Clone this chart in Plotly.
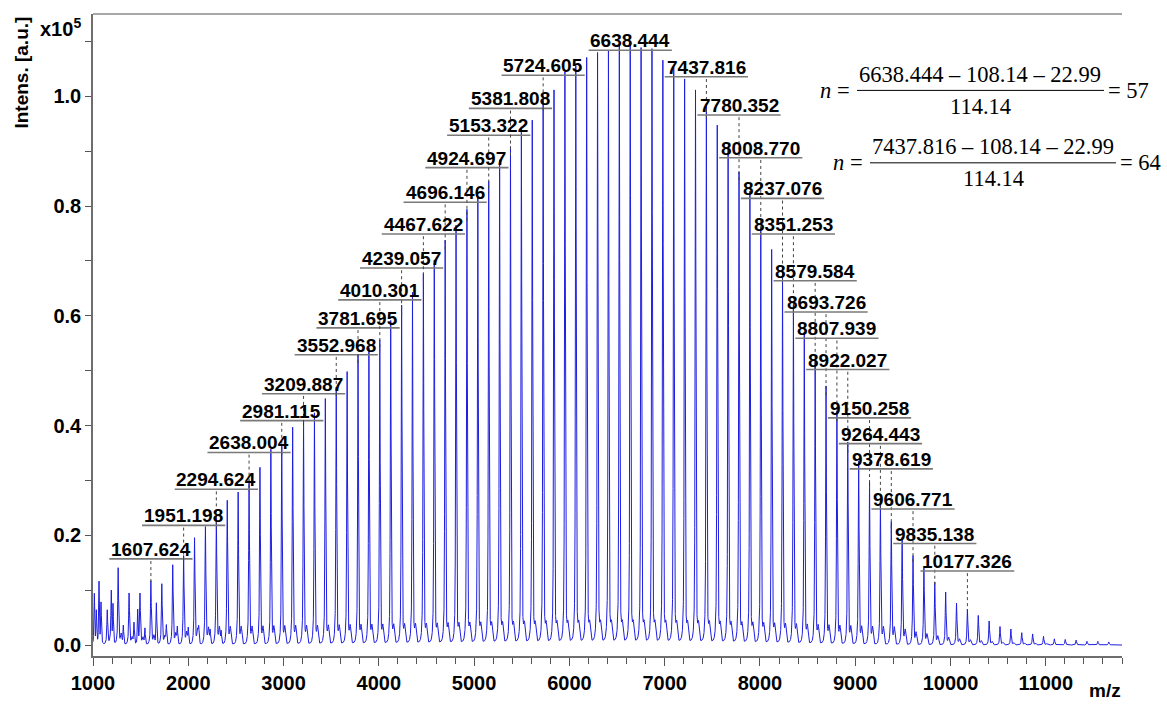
import numpy as np
import plotly.graph_objects as go

# ---- main oligomer series: peak m/z and intensity (x10^5 a.u.) ----
peak_mz = [1149.6, 1264.1, 1378.6, 1493.1, 1607.624, 1722.1, 1836.7, 1951.198, 2065.7, 2180.2,
           2294.624, 2409.1, 2523.6, 2638.004, 2752.4, 2866.8, 2981.115, 3095.5, 3209.887, 3324.3,
           3438.6, 3552.968, 3667.3, 3781.695, 3896.0, 4010.301, 4124.7, 4239.057, 4353.3, 4467.622,
           4581.9, 4696.146, 4810.4, 4924.697, 5039.0, 5153.322, 5267.6, 5381.808, 5496.1, 5610.3,
           5724.605, 5838.8, 5953.1, 6067.3, 6181.5, 6295.7, 6410.0, 6524.2, 6638.444, 6752.6,
           6866.8, 6981.0, 7095.2, 7209.4, 7323.6, 7437.816, 7552.0, 7666.2, 7780.352, 7894.6,
           8008.770, 8122.9, 8237.076, 8351.253, 8465.4, 8579.584, 8693.726, 8807.939, 8922.027, 9036.1,
           9150.258, 9264.443, 9378.619, 9492.7, 9606.771, 9721.0, 9835.138, 9949.2, 10063.3, 10177.326,
           10291.4, 10405.5, 10519.6, 10633.7, 10747.8, 10861.9, 10976.0, 11090.1, 11204.2, 11318.3,
           11432.4, 11546.5, 11660.6]
peak_int = [0.056, 0.125, 0.084, 0.083, 0.104, 0.099, 0.130, 0.145, 0.174, 0.192,
            0.206, 0.238, 0.253, 0.274, 0.298, 0.331, 0.340, 0.371, 0.384, 0.397,
            0.423, 0.443, 0.472, 0.502, 0.515, 0.530, 0.565, 0.593, 0.616, 0.650,
            0.675, 0.711, 0.738, 0.767, 0.791, 0.818, 0.857, 0.881, 0.917, 0.929,
            0.967, 0.984, 1.017, 1.028, 1.043, 1.052, 1.055, 1.064, 1.073, 1.061,
            1.059, 1.038, 1.025, 1.004, 0.984, 0.955, 0.920, 0.876, 0.835, 0.800,
            0.734, 0.694, 0.650, 0.593, 0.544, 0.489, 0.446, 0.401, 0.344, 0.309,
            0.271, 0.237, 0.200, 0.175, 0.145, 0.125, 0.102, 0.086, 0.068, 0.058,
            0.048, 0.039, 0.030, 0.026, 0.020, 0.018, 0.014, 0.010, 0.009, 0.008,
            0.006, 0.006, 0.005]

# ---- low-mass matrix / fragment peaks ----
minor_mz = [1014.0, 1035.0, 1063.0, 1084.0, 1192.0, 1210.0, 1318.0, 1430.0, 1469.0, 1545.0,
            1665.0, 1770.0, 1885.0, 2000.0, 2110.0, 2230.0, 2345.0]
minor_int = [0.092, 0.060, 0.113, 0.075, 0.094, 0.072, 0.035, 0.040, 0.062, 0.030,
             0.076, 0.035, 0.032, 0.030, 0.028, 0.026, 0.024]

# ---- annotated peaks and the row height of each label ----
label_mz = [1607.624, 1951.198, 2294.624, 2638.004, 2981.115, 3209.887, 3552.968, 3781.695,
            4010.301, 4239.057, 4467.622, 4696.146, 4924.697, 5153.322, 5381.808, 5724.605,
            6638.444, 7437.816, 7780.352, 8008.770, 8237.076, 8351.253, 8579.584, 8693.726,
            8807.939, 8922.027, 9150.258, 9264.443, 9378.619, 9606.771, 9835.138, 10177.326]
label_row = [0.157, 0.218, 0.284, 0.351, 0.409, 0.458, 0.529, 0.578,
             0.629, 0.687, 0.749, 0.807, 0.870, 0.929, 0.978, 1.0385,
             1.084, 1.0356, 0.966, 0.888, 0.814, 0.749, 0.664, 0.607,
             0.559, 0.502, 0.414, 0.367, 0.321, 0.248, 0.185, 0.135]

x_ticks = list(range(1000, 12000, 1000))
y_ticks = [0.0, 0.2, 0.4, 0.6, 0.8, 1.0]

# ---- profile spectrum built from the peak list ----
grid = np.arange(1000.0, 11800.5, 0.5)
mz = np.union1d(grid, np.array(peak_mz + minor_mz))


def profile(center, height):
    d = mz - center
    return height * (0.55 * np.exp(-0.5 * (d / 4.0) ** 2) + 0.45 / (1.0 + (d / 5.0) ** 2))


signal = np.zeros_like(mz)
for c, h in zip(peak_mz, peak_int):
    signal += profile(c, h)
    # broad skirt under each oligomer peak
    skirt = min(0.025, 0.12 * h)
    signal += skirt * np.exp(-0.5 * ((mz - c) / 12.0) ** 2)
    # adduct shoulder following each oligomer peak
    side = min(0.03, 0.15 * h)
    signal += side * np.exp(-0.5 * ((mz - c - 32.0) / 7.0) ** 2)
for c, h in zip(minor_mz, minor_int):
    signal += profile(c, h)

fig = go.Figure()
fig.add_trace(go.Scatter(x=mz, y=signal, mode="lines",
                         line=dict(color="rgb(30,30,225)", width=1),
                         hoverinfo="skip", showlegend=False))

# plot-area geometry in pixels
W, H = 1167, 706
L, R, T, B = 93, 1122, 14, 661


def px_x(px):
    return (px - L) / (R - L)


def px_y(py):
    return (B - py) / (B - T)


bold = dict(family="Liberation Sans, Arial, sans-serif", size=19, color="black", weight="bold")
tickfont = dict(bold, size=20)
serif = dict(family="Liberation Serif, Times New Roman, serif", size=22.5, color="black")

shapes = []
annotations = []

# peak labels: text, underline and dotted leader to the peak top
height_of = dict(zip(peak_mz, peak_int))
fs = bold["size"]
for m, row in zip(label_mz, label_row):
    txt = f"{m:.3f}"
    ndig = sum(ch.isdigit() for ch in txt)
    w = fs * (0.556 * ndig + 0.278) + 4
    annotations.append(dict(x=m, y=row, xref="x", yref="y", text=f"<b>{txt}</b>",
                            showarrow=False, yanchor="bottom", xanchor="center",
                            font=bold, yshift=-2, borderpad=0))
    shapes.append(dict(type="line", xref="x", yref="y", xsizemode="pixel", xanchor=m,
                       x0=-w / 2, x1=w / 2, y0=row, y1=row,
                       line=dict(color="#7a7a7a", width=1.6)))
    top = height_of[m]
    shapes.append(dict(type="line", xref="x", yref="y", x0=m, x1=m, y0=row - 0.004, y1=top + 0.006,
                       line=dict(color="#444444", width=1, dash="dot")))

# top frame line
shapes.append(dict(type="line", xref="paper", yref="paper", x0=0, x1=1, y0=1, y1=1,
                   line=dict(color="#8a8a8a", width=1.5)))

# axis captions
annotations.append(dict(x=px_x(22), y=px_y(73), xref="paper", yref="paper",
                        text="<b>Intens. [a.u.]</b>", textangle=-90, showarrow=False,
                        font=bold, xanchor="center", yanchor="middle"))
annotations.append(dict(x=px_x(60), y=px_y(28), xref="paper", yref="paper",
                        text="<b>x10<sup>5</sup></b>", showarrow=False,
                        font=dict(bold, size=20), xanchor="center", yanchor="middle"))
annotations.append(dict(x=px_x(1105), y=px_y(696), xref="paper", yref="paper",
                        text="<b>m/z</b>", showarrow=False, font=bold,
                        xanchor="center", yanchor="middle"))

# degree-of-polymerisation equations
equations = [
    dict(num="6638.444 \u2013 108.14 \u2013 22.99", res="= 57", nx=835, cx=980, line=(857, 1104),
         rx=1106, yl=91),
    dict(num="7437.816 \u2013 108.14 \u2013 22.99", res="= 64", nx=848, cx=993, line=(870, 1116),
         rx=1118, yl=164),
]
for eq in equations:
    yl = eq["yl"]
    annotations.append(dict(x=px_x(eq["nx"]), y=px_y(yl), xref="paper", yref="paper",
                            text="<i>n</i> =", showarrow=False, font=serif,
                            xanchor="center", yanchor="middle"))
    annotations.append(dict(x=px_x(eq["cx"]), y=px_y(yl - 16), xref="paper", yref="paper",
                            text=eq["num"], showarrow=False, font=serif,
                            xanchor="center", yanchor="middle"))
    annotations.append(dict(x=px_x(eq["cx"]), y=px_y(yl + 16), xref="paper", yref="paper",
                            text="114.14", showarrow=False, font=serif,
                            xanchor="center", yanchor="middle"))
    annotations.append(dict(x=px_x(eq["rx"]), y=px_y(yl), xref="paper", yref="paper",
                            text=eq["res"], showarrow=False, font=serif,
                            xanchor="left", yanchor="middle"))
    shapes.append(dict(type="line", xref="paper", yref="paper",
                       x0=px_x(eq["line"][0]), x1=px_x(eq["line"][1]),
                       y0=px_y(yl), y1=px_y(yl), line=dict(color="black", width=1)))

fig.update_layout(
    width=W, height=H,
    margin=dict(l=L, r=W - R, t=T, b=H - B),
    paper_bgcolor="white", plot_bgcolor="white",
    shapes=shapes, annotations=annotations,
    xaxis=dict(range=[1000, 11800], tickvals=x_ticks, ticktext=[str(v) for v in x_ticks],
               ticks="outside", ticklen=8, tickwidth=1.3, tickcolor="#555555",
               showline=True, linecolor="#6e6e6e", linewidth=1.5,
               showgrid=False, zeroline=False, tickfont=tickfont,
               minor=dict(dtick=200, tick0=1000, ticks="outside", ticklen=6,
                          tickwidth=1.2, tickcolor="#555555", showgrid=False)),
    yaxis=dict(range=[-0.02, 1.15], tickvals=y_ticks, ticktext=[f"{v:.1f}" for v in y_ticks],
               ticks="outside", ticklen=6, tickwidth=1.3, tickcolor="#555555",
               showline=True, linecolor="#6e6e6e", linewidth=1.5,
               showgrid=False, zeroline=False, tickfont=tickfont,
               minor=dict(dtick=0.1, tick0=0, ticks="outside", ticklen=6,
                          tickwidth=1.2, tickcolor="#555555", showgrid=False)),
)

fig.write_html("out.html")
